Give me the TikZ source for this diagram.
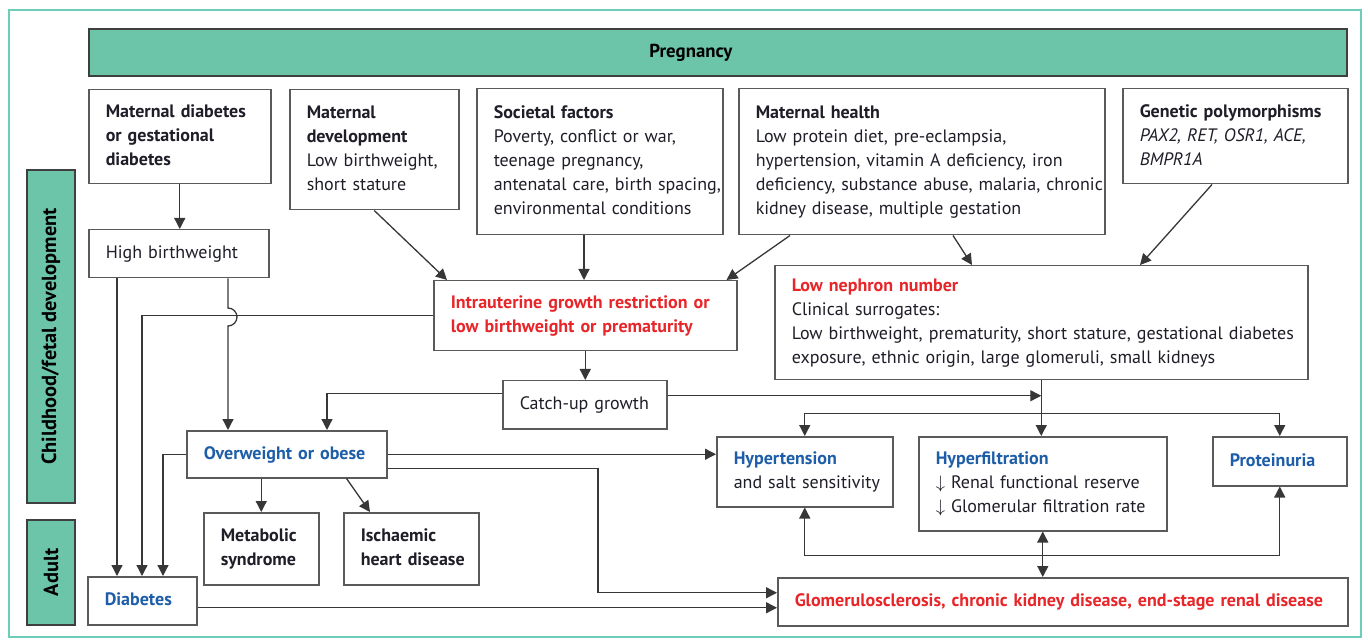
\documentclass[tikz,border=0pt]{standalone}
\usepackage{fontspec}
\setmainfont{PT Sans}
\usepackage{xcolor}
\usepackage{tikz}
\usetikzlibrary{arrows.meta}
\definecolor{bandteal}{RGB}{108,196,169}
\definecolor{frameteal}{RGB}{110,205,185}
\definecolor{boxline}{RGB}{90,90,90}
\definecolor{wire}{RGB}{55,55,55}
\definecolor{redtxt}{RGB}{232,38,42}
\definecolor{bluetxt}{RGB}{30,94,168}
\definecolor{bodytxt}{RGB}{30,30,40}
\newcommand{\redhd}[1]{\textcolor{redtxt}{\bfseries #1}}
\newcommand{\bluehd}[1]{\textcolor{bluetxt}{\bfseries #1}}
\newcommand{\rows}[1]{\begin{tabular}{@{}l@{}}#1\end{tabular}}
\tikzset{box/.style={draw=boxline, line width=0.75pt, fill=white, anchor=north west, align=left, inner xsep=8.5pt, inner ysep=0pt, text=bodytxt, font=\fontsize{9}{12}\selectfont}}
\tikzset{band/.style={draw=boxline!70!black, line width=0.9pt, fill=bandteal, inner sep=0pt, font=\bfseries\fontsize{9.4}{12}\selectfont}}
\tikzset{sideband/.style={band, rotate=90, minimum height=24pt, font=\bfseries\fontsize{10.2}{12}\selectfont}}
\tikzset{arr/.style={draw=wire, line width=0.65pt, ->, >={Triangle[length=5.5pt,width=5.5pt]}}}
\tikzset{dblarr/.style={arr, <->}}

\begin{document}
\begin{tikzpicture}[x=0.5pt,y=0.5pt]
\useasboundingbox (0,0) rectangle (1368,-640);
\draw[frameteal, line width=1.2pt] (9,-10) rectangle (1361,-637);

% stage bands
\node[band, anchor=north west, minimum width=629pt, minimum height=23.5pt] (preg) at (88,-28) {\hspace*{-27pt}Pregnancy};
\node[sideband, minimum width=166.5pt] (child) at (51,-336.5) {Childhood/fetal development};
\node[sideband, minimum width=52.5pt] (adult) at (51,-572.5) {Adult};

% causes
\node[box, text width=74pt, minimum height=47pt] (matdia) at (88,-89) {\rows{\textbf{Maternal diabetes}\\\textbf{or gestational}\\\textbf{diabetes}}};
\node[box, text width=67.5pt, minimum height=60pt] (matdev) at (289,-89) {\rows{\textbf{Maternal}\\\textbf{development}\\Low birthweight,\\short stature}};
\node[box, text width=106pt, minimum height=73pt] (societ) at (476,-88) {\rows{\textbf{Societal factors}\\Poverty, conflict or war,\\teenage pregnancy,\\antenatal care, birth spacing,\\environmental conditions}};
\node[box, text width=166pt, minimum height=73pt] (mathlth) at (738,-88) {\rows{\textbf{Maternal health}\\Low protein diet, pre-eclampsia,\\hypertension, vitamin A deficiency, iron\\deficiency, substance abuse, malaria, chronic\\kidney disease, multiple gestation}};
\node[box, text width=95.5pt, minimum height=47.5pt] (genet) at (1122,-88) {\rows{\textbf{Genetic polymorphisms}\\\textit{PAX2, RET, OSR1, ACE,}\\\textit{BMPR1A}}};

% fetal stage
\node[box, text width=73pt, minimum height=24pt] (highbw) at (88,-229) {\rows{High birthweight}};
\node[box, text width=134.5pt, minimum height=35pt] (iugr) at (433,-280) {\rows{\redhd{Intrauterine growth restriction or}\\\redhd{low birthweight or prematurity}}};
\node[box, text width=249.5pt, minimum height=57pt] (nephron) at (774,-265) {\rows{\redhd{Low nephron number}\\Clinical surrogates:\\Low birthweight, prematurity, short stature, gestational diabetes\\exposure, ethnic origin, large glomeruli, small kidneys}};
\node[box, text width=65pt, minimum height=24pt] (catchup) at (502,-380) {\rows{Catch-up growth}};
\node[box, text width=83pt, minimum height=23.5pt] (obese) at (186,-430) {\rows{\bluehd{Overweight or obese}}};

% outcomes
\node[box, text width=40.5pt, minimum height=36pt] (metab) at (203,-512) {\rows{\textbf{Metabolic}\\\textbf{syndrome}}};
\node[box, text width=50.5pt, minimum height=36pt] (ischem) at (343,-512) {\rows{\textbf{Ischaemic}\\\textbf{heart disease}}};
\node[box, text width=37.5pt, minimum height=24pt] (diab) at (87,-576) {\rows{\bluehd{Diabetes}}};
\node[box, text width=71pt, minimum height=35pt] (hypert) at (716,-436) {\rows{\bluehd{Hypertension}\\and salt sensitivity}};
\node[box, text width=107pt, minimum height=47pt] (hfilt) at (918,-436) {\rows{\bluehd{Hyperfiltration}\\$\downarrow$ Renal functional reserve\\$\downarrow$ Glomerular filtration rate}};
\node[box, text width=50pt, minimum height=24.5pt] (protein) at (1212,-436) {\rows{\bluehd{Proteinuria}}};
\node[box, text width=268pt, minimum height=24pt] (glomer) at (777,-577) {\rows{\redhd{Glomerulosclerosis, chronic kidney disease, end-stage renal disease}}};

\coordinate (split) at ([yshift=-16.5pt]nephron.south);
\coordinate (fb) at ([yshift=-12pt]hfilt.south);

% pregnancy links
\draw[arr] (matdia.south) -- (matdia.south |- highbw.north);
\draw[arr] (matdev.south) -- ([xshift=7pt]iugr.north west);
\draw[arr] ([xshift=54pt]societ.south west) -- ([xshift=54pt]societ.south west |- iugr.north);
\draw[arr] ([xshift=26pt]mathlth.south west) -- ([xshift=-5.5pt]iugr.north east);
\draw[arr] ([xshift=107.5pt]mathlth.south west) -- ([xshift=99pt]nephron.north west);
\draw[arr] ([xshift=45pt]genet.south west) -- ([xshift=183pt]nephron.north west);

% childhood links
\draw[arr] ([xshift=14.5pt]highbw.south west) -- ([xshift=14.5pt]highbw.south west |- diab.north);
\draw[arr] ([xshift=70pt]highbw.south west) -- ([xshift=70pt,yshift=-14.75pt]highbw.south west)
  arc[start angle=90, end angle=-90, radius=4.5pt] -- ([xshift=21pt]obese.north west);
\draw[arr] (iugr.west) -| ([xshift=27.5pt]diab.north west);
\draw[arr] (iugr.south) -- (iugr.south |- catchup.north);
\draw[arr] ([yshift=5.5pt]catchup.west) -| ([xshift=70.5pt]obese.north west);
\draw[arr] ([yshift=4.5pt]catchup.east) -- ([yshift=4.5pt]catchup.east -| nephron.south);
\draw[arr] (nephron.south) -- (nephron.south |- hfilt.north);
\draw[arr] (split) -| (hypert.north);
\draw[arr] (split) -| (protein.north);
\draw[arr] (obese.west) -| ([xshift=38pt]diab.north west);
\draw[arr] (obese.east) -- (obese.east -| hypert.west);
\draw[arr] ([yshift=-7pt]obese.east) -| ([xshift=-89.5pt,yshift=4.5pt]glomer.west) -- ([yshift=4.5pt]glomer.west);
\draw[arr] (metab.north |- obese.south) -- (metab.north);
\draw[arr] ([xshift=-20.5pt]obese.south east) -- ([xshift=13.5pt]ischem.north west);

% adult links
\draw[arr] ([yshift=-3.5pt]diab.east) -- ([yshift=-3.5pt]diab.east -| glomer.west);
\draw[dblarr] (hfilt.south) -- (hfilt.south |- glomer.north);
\draw[dblarr] (hypert.south) |- (fb) -| (protein.south);
\end{tikzpicture}
\end{document}
